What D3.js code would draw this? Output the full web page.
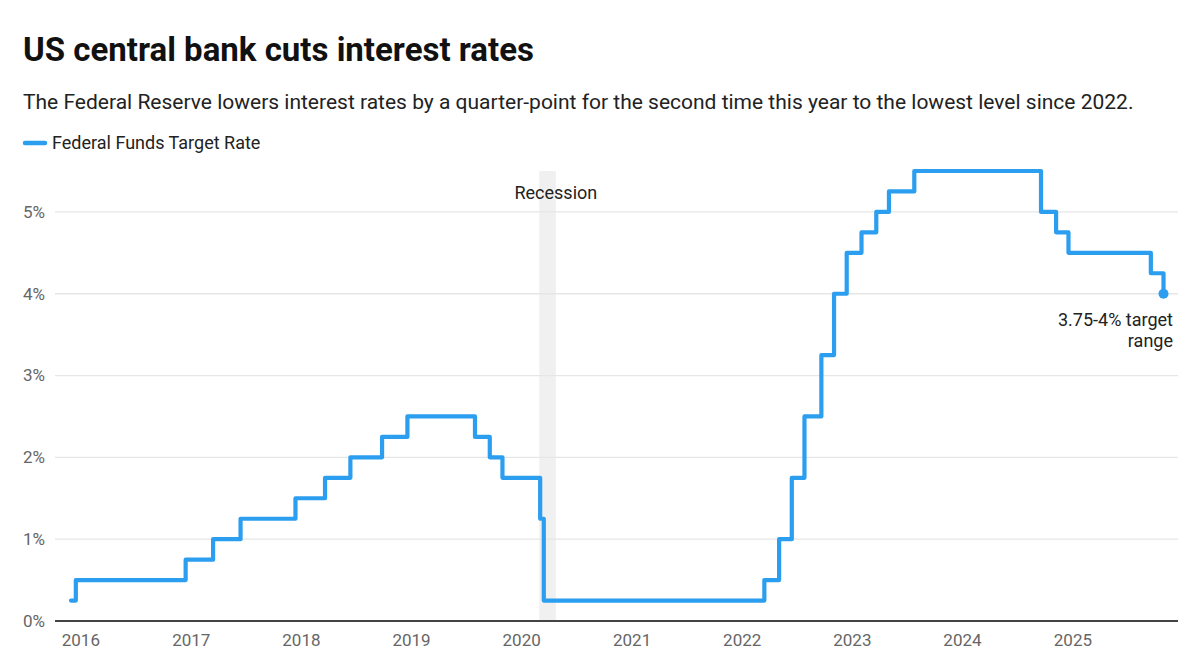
<!DOCTYPE html>
<html>
<head>
<meta charset="utf-8">
<script src="https://cdn.jsdelivr.net/npm/d3@7"></script>
<style>
  html, body { margin: 0; padding: 0; background: #fff; }
  svg { display: block; font-family: Roboto, "Noto Sans", sans-serif; }
</style>
</head>
<body>
<svg id="chart" width="1203" height="672"></svg>
<script>
// ---- Data ----
const rateDates = [
  "2015-12-01","2015-12-17","2016-12-15","2017-03-16","2017-06-15","2017-12-14",
  "2018-03-22","2018-06-14","2018-09-27","2018-12-20","2019-08-01","2019-09-19",
  "2019-10-31","2020-03-04","2020-03-16","2022-03-17","2022-05-05","2022-06-16",
  "2022-07-28","2022-09-22","2022-11-03","2022-12-15","2023-02-02","2023-03-23",
  "2023-05-04","2023-07-27","2024-09-19","2024-11-08","2024-12-19","2025-09-18",
  "2025-10-30"
];
const rateValues = [
  0.25, 0.50, 0.75, 1.00, 1.25, 1.50,
  1.75, 2.00, 2.25, 2.50, 2.25, 2.00,
  1.75, 1.25, 0.25, 0.50, 1.00, 1.75,
  2.50, 3.25, 4.00, 4.50, 4.75, 5.00,
  5.25, 5.50, 5.00, 4.75, 4.50, 4.25,
  4.00
];
const recession = ["2020-03-01", "2020-04-25"];
const yTicks = [0, 1, 2, 3, 4, 5];
const xTickYears = [2016, 2017, 2018, 2019, 2020, 2021, 2022, 2023, 2024, 2025];
const seriesName = "Federal Funds Target Rate";
const titleText = "US central bank cuts interest rates";
const subtitleText = "The Federal Reserve lowers interest rates by a quarter-point for the second time this year to the lowest level since 2022.";
const annotationLines = ["3.75-4% target", "range"];

(function () {
// ---- Setup ----
const parse = d3.utcParse("%Y-%m-%d");
const data = rateDates.map((d, i) => ({ date: parse(d), value: rateValues[i] }));
const blue = "#2b9ef0";

const svg = d3.select("#chart");
const pLeft = 55, pRight = 1178, pTop = 171, pBottom = 621;

const x = d3.scaleUtc()
  .domain([parse("2015-10-09"), parse("2025-12-17")])
  .range([pLeft, pRight]);
const y = d3.scaleLinear().domain([0, 5.5]).range([pBottom, pTop]);

// Title
svg.append("text").attr("x", 23).attr("y", 61)
  .attr("font-size", 33).attr("font-weight", 700).attr("fill", "#111")
  .text(titleText);
svg.append("text").attr("x", 23).attr("y", 108.5)
  .attr("font-size", 21).attr("fill", "#222")
  .text(subtitleText);

// Legend
svg.append("line").attr("x1", 25).attr("x2", 45).attr("y1", 143).attr("y2", 143)
  .attr("stroke", blue).attr("stroke-width", 4.5).attr("stroke-linecap", "round");
svg.append("text").attr("x", 52).attr("y", 149)
  .attr("font-size", 18).attr("fill", "#222")
  .text(seriesName);

// Recession band
svg.append("rect")
  .attr("x", x(parse(recession[0])))
  .attr("width", x(parse(recession[1])) - x(parse(recession[0])))
  .attr("y", pTop).attr("height", pBottom - pTop)
  .attr("fill", "#f0f0f0");
svg.append("text")
  .attr("x", x(parse(recession[1])))
  .attr("y", 199).attr("text-anchor", "middle")
  .attr("font-size", 18).attr("fill", "#222")
  .text("Recession");

// Gridlines
svg.append("g").selectAll("line").data(yTicks.filter(d => d > 0)).join("line")
  .attr("x1", pLeft).attr("x2", pRight)
  .attr("y1", d => y(d)).attr("y2", d => y(d))
  .attr("stroke", "#e6e6e6").attr("stroke-width", 1.3);

// Y axis
const yAxis = svg.append("g").attr("transform", `translate(${pLeft},0)`)
  .call(d3.axisLeft(y).tickValues(yTicks).tickFormat(d => d + "%").tickSize(0).tickPadding(10));
yAxis.select(".domain").remove();
yAxis.selectAll("text").attr("font-size", 17).attr("fill", "#666")
  .attr("font-family", "Roboto, sans-serif");

// X axis
const xAxis = svg.append("g").attr("transform", `translate(0,${pBottom})`)
  .call(d3.axisBottom(x).tickValues(xTickYears.map(yr => new Date(Date.UTC(yr, 0, 1))))
    .tickFormat(d3.utcFormat("%Y")).tickSize(0).tickPadding(13));
xAxis.select(".domain").remove();
xAxis.selectAll("text").attr("font-size", 17).attr("fill", "#666")
  .attr("font-family", "Roboto, sans-serif");

// Baseline
svg.append("line").attr("x1", pLeft).attr("x2", pRight)
  .attr("y1", y(0)).attr("y2", y(0))
  .attr("stroke", "#444").attr("stroke-width", 2);

// Line
const line = d3.line().x(d => x(d.date)).y(d => y(d.value)).curve(d3.curveStepAfter);
svg.append("path").datum(data)
  .attr("d", line).attr("fill", "none")
  .attr("stroke", blue).attr("stroke-width", 4.2)
  .attr("stroke-linejoin", "round").attr("stroke-linecap", "round");

// End point + annotation
const last = data[data.length - 1];
svg.append("circle").attr("cx", x(last.date)).attr("cy", y(last.value))
  .attr("r", 5).attr("fill", blue);
const ann = svg.append("text")
  .attr("x", 1173).attr("y", 326).attr("text-anchor", "end")
  .attr("font-size", 18).attr("fill", "#222");
annotationLines.forEach((t, i) => {
  ann.append("tspan").attr("x", 1173).attr("dy", i === 0 ? 0 : 21).text(t);
});
})();
</script>
</body>
</html>
